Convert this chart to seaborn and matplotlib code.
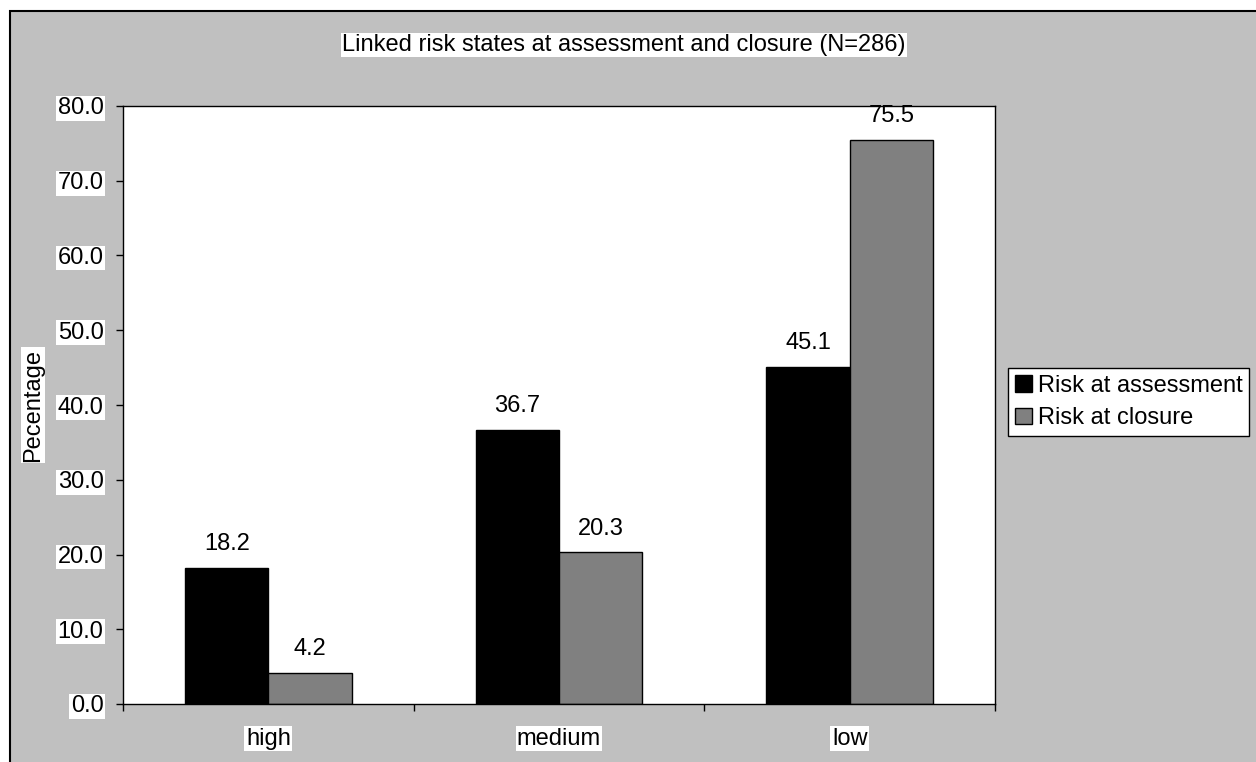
import pandas as pd
import seaborn as sns
import matplotlib.pyplot as plt
from matplotlib.patches import Rectangle

# chart data
categories = ['high', 'medium', 'low']
risk_assessment = [18.2, 36.7, 45.1]
risk_closure = [4.2, 20.3, 75.5]
series_names = ['Risk at assessment', 'Risk at closure']

sns.set_style('white')
plt.rcParams['font.family'] = ['Liberation Sans', 'DejaVu Sans']
plt.rcParams['font.size'] = 17
plt.rcParams['text.color'] = 'black'
plt.rcParams['axes.labelcolor'] = 'black'
plt.rcParams['xtick.color'] = 'black'
plt.rcParams['ytick.color'] = 'black'

df = pd.DataFrame({
    'risk': categories * 2,
    'value': risk_assessment + risk_closure,
    'series': [series_names[0]] * 3 + [series_names[1]] * 3,
})

fig = plt.figure(figsize=(12.56, 7.62), dpi=100, facecolor='white')

# grey chart area with black border (extends past right/bottom edges)
bg = Rectangle((10 / 1256, -0.1), 1.2, 1 - 11 / 762 + 0.1, transform=fig.transFigure,
               facecolor='#C0C0C0', edgecolor='black', linewidth=1.5, zorder=-10)
fig.patches.append(bg)

ax = fig.add_axes([123 / 1256, 1 - 704 / 762, 872 / 1256, 598 / 762])
ax.set_facecolor('white')

sns.barplot(data=df, x='risk', y='value', hue='series', ax=ax,
            palette=['#000000', '#808080'], width=0.573,
            edgecolor='black', linewidth=1, saturation=1)

for cont in ax.containers:
    ax.bar_label(cont, fmt='%.1f', padding=9, fontsize=17, color='black')

ax.set_ylim(0, 80)
ax.set_xlim(-0.5, 2.5)
ax.set_yticks(range(0, 81, 10))
ax.set_yticklabels([f'{v:.1f}' for v in range(0, 81, 10)])
ax.set_xticks([-0.5, 0.5, 1.5, 2.5], minor=True)
ax.tick_params(axis='y', which='major', direction='out', length=5, width=1, pad=9,
               left=True, colors='black', labelsize=17)
ax.tick_params(axis='x', which='major', length=0, pad=17, labelsize=17, colors='black')
ax.tick_params(axis='x', which='minor', direction='out', length=5, width=1, bottom=True)
for s in ax.spines.values():
    s.set_color('black')
    s.set_linewidth(1)

for lab in ax.get_yticklabels() + ax.get_xticklabels():
    lab.set_bbox(dict(facecolor='white', edgecolor='none', pad=1))

ax.set_xlabel('')
ax.set_ylabel('')

fig.text(624 / 1256, 1 - 45 / 762, 'Linked risk states at assessment and closure (N=286)',
         ha='center', va='center', fontsize=17, color='black',
         bbox=dict(facecolor='white', edgecolor='none', pad=1))
fig.text(33 / 1256, 1 - 405 / 762, 'Pecentage', rotation=90, ha='center', va='center',
         fontsize=17, color='black', bbox=dict(facecolor='white', edgecolor='none', pad=1))

sns.move_legend(ax, loc='center left', bbox_to_anchor=(1008 / 1256, 1 - 402 / 762),
                bbox_transform=fig.transFigure, title=None, frameon=True,
                fontsize=17, handlelength=0.7, handleheight=0.7, handletextpad=0.25,
                borderpad=0.3, labelspacing=0.45, borderaxespad=0, fancybox=False)
leg = ax.get_legend()
leg.get_frame().set_edgecolor('black')
leg.get_frame().set_linewidth(1)
leg.get_frame().set_facecolor('white')
leg.get_frame().set_alpha(1)
for t in leg.get_texts():
    t.set_color('black')

fig.savefig('out.png', dpi=100, facecolor=fig.get_facecolor())
